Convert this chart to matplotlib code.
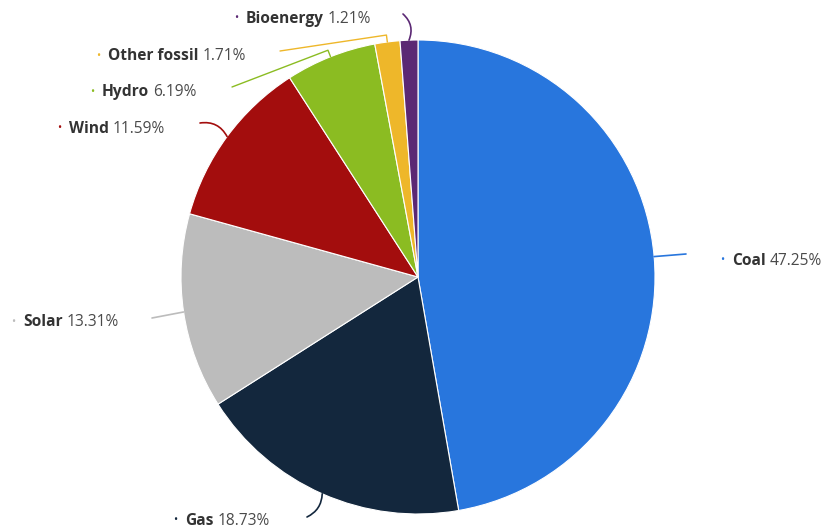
import matplotlib
matplotlib.use('Agg')
import matplotlib.pyplot as plt
import numpy as np

plt.rcParams['font.family'] = ['Open Sans', 'DejaVu Sans']

labels = ['Coal', 'Gas', 'Solar', 'Wind', 'Hydro', 'Other fossil', 'Bioenergy']
shares = [47.25, 18.73, 13.31, 11.59, 6.19, 1.71, 1.21]
colors = ['#2876dd', '#13273d', '#bcbcbc', '#a30d0d', '#8bbc22', '#eeb72a', '#5b2874']

# label layout in pixels: bullet position and connector end point
label_pos = [(722, 261), (175, 521), (13, 322), (59, 129), (92, 92), (98, 56), (236, 19)]
line_end = [(686, 254), (307, 517), (152, 318), (200, 123), (232, 87), (280, 51), (403, 14)]
line_kind = ['arc3,rad=0', 'arc3,rad=-0.3', 'arc3,rad=0', 'arc3,rad=0.35', 'elbow', 'elbow', 'arc3,rad=0.35']

W, H = 827, 529
cx, cy, R = 418, 277, 237

fig = plt.figure(figsize=(W / 100, H / 100), dpi=100)
ax = fig.add_axes([0, 0, 1, 1])

# y axis runs downward, so counterclock=True draws clockwise on screen
wedges, _ = ax.pie(shares, colors=colors, startangle=-90, counterclock=True,
                   center=(cx, cy), radius=R,
                   wedgeprops=dict(edgecolor='white', linewidth=0.8))
ax.set_xlim(0, W)
ax.set_ylim(H, 0)
ax.set_aspect('equal')
ax.axis('off')

fig.canvas.draw()
renderer = fig.canvas.get_renderer()
inv = ax.transData.inverted()

for i, w in enumerate(wedges):
    mid = np.deg2rad((w.theta1 + w.theta2) / 2)
    ex, ey = cx + R * np.cos(mid), cy + R * np.sin(mid)
    tx, ty = line_end[i]
    if line_kind[i] == 'elbow':
        kx, ky = cx + (R + 7) * np.cos(mid), cy + (R + 7) * np.sin(mid)
        ax.plot([ex, kx, tx], [ey, ky, ty], color=colors[i], lw=1, solid_capstyle='round')
    else:
        ax.annotate('', xy=(tx, ty), xytext=(ex, ey),
                    arrowprops=dict(arrowstyle='-', color=colors[i], lw=1.2,
                                    connectionstyle=line_kind[i],
                                    shrinkA=0, shrinkB=0))

    dx, dy = label_pos[i]
    ax.text(dx, dy, '•', color=colors[i], fontsize=8, ha='center', va='center')
    t = ax.text(dx + 10, dy, labels[i], color='#333333', fontweight='bold',
                fontsize=11.2, ha='left', va='center')
    bb = t.get_window_extent(renderer)
    xend = inv.transform((bb.x1, bb.y0))[0]
    ax.text(xend + 4, dy, '%.2f%%' % shares[i], color='#4a4a4a',
            fontsize=11.2, ha='left', va='center')

fig.savefig('out.png', dpi=100)
